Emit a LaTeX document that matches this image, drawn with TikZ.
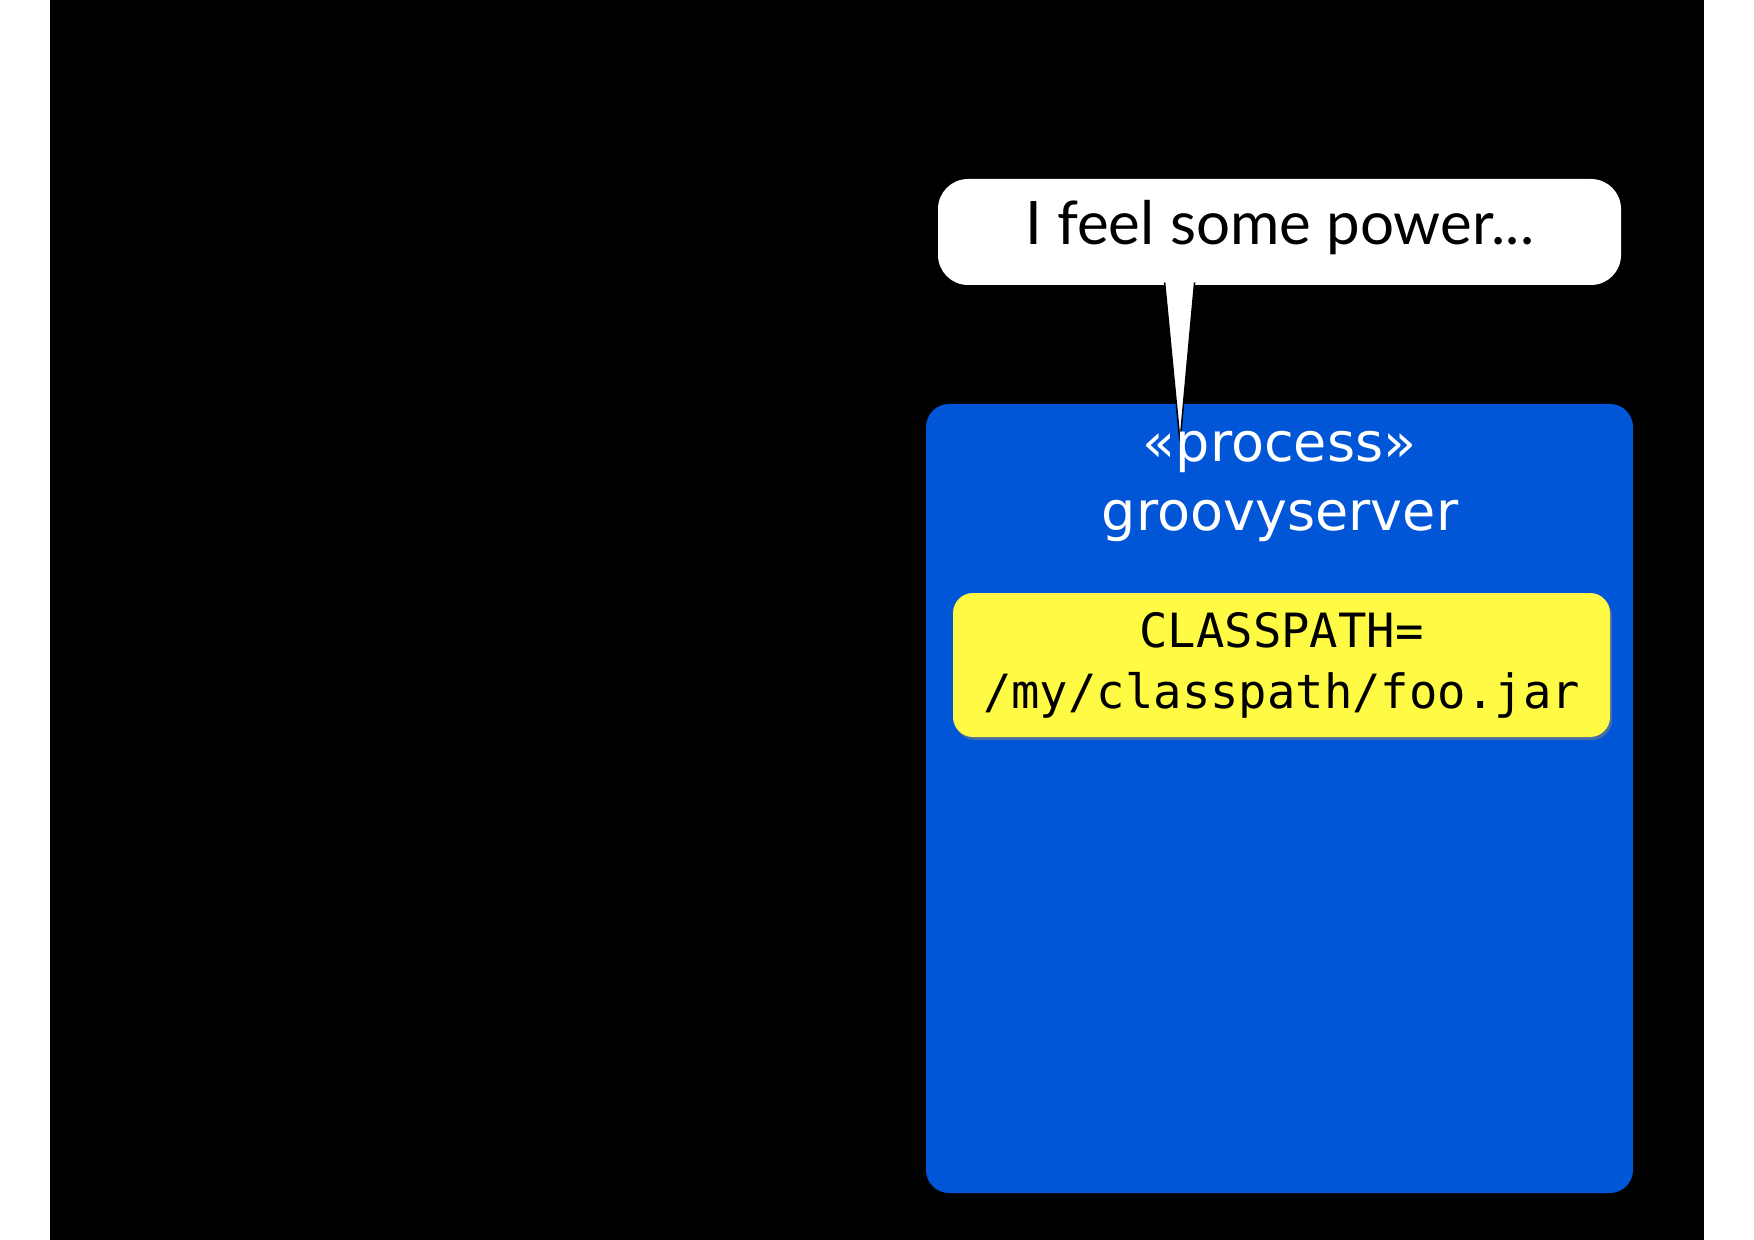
\documentclass[tikz,border=0pt]{standalone}
\usepackage{fontspec}
\setmainfont{Lato}
\newfontfamily\procfont{DejaVu Sans}
\newfontfamily\pathfont{DejaVu Sans Mono}
\usetikzlibrary{calc,shadows}
\definecolor{procblue}{RGB}{0,86,214}
\definecolor{cpyellow}{RGB}{255,251,68}

\begin{document}
\begin{tikzpicture}[x=0.5pt,y=-0.5pt,
  box/.style={inner sep=0pt,minimum width=#1},
  line/.style={anchor=base,inner sep=0pt}]
\fill[white] (0,0) rectangle (1754,1240);
\fill[black] (50,0) rectangle (1704,1240);
% process box and the classpath inside it
\node[box=353.5pt,minimum height=394.5pt,fill=procblue,rounded corners=11.5pt]
  (proc) at (1279.5,798.5) {};
\node[box=328.5pt,minimum height=72pt,fill=cpyellow,rounded corners=10pt,
  drop shadow={shadow xshift=1pt,shadow yshift=-1.5pt,opacity=.55}]
  (cp) at (1281.5,665) {};
% speech bubble
\node[box=341.5pt,minimum height=53pt,fill=white,rounded corners=15pt]
  (bubble) at (1279.5,232) {};
\coordinate (tip) at ($(proc.north)+(-99.5,38)$);
\draw[fill=white,line width=.75pt] ($(bubble.south west)+(227,-3)$) -- (tip)
  -- ($(bubble.south west)+(257,-3)$);
\node[line,font=\fontsize{30}{36}\selectfont] (say) at (1279.5,245)
  {I feel some power...};
\node[line,white,font=\procfont\fontsize{27}{34}\selectfont] (stereo)
  at (1279.5,462) {«process»};
\node[line,white,font=\procfont\fontsize{27}{34}\selectfont] (procname)
  at (1280,530) {groovyserver};
\node[line,font=\pathfont\fontsize{23.6}{30}\selectfont] (cpvar)
  at (1281.5,647) {CLASSPATH=};
\node[line,font=\pathfont\fontsize{23.6}{30}\selectfont] (cppath)
  at (1281.5,708) {/my/classpath/foo.jar};
\end{tikzpicture}
\end{document}
